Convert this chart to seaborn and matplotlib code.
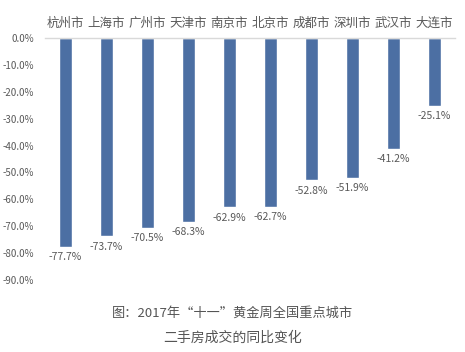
import matplotlib
matplotlib.use("Agg")
import matplotlib.pyplot as plt
import pandas as pd
import seaborn as sns

cities = ["杭州市", "上海市", "广州市", "天津市", "南京市", "北京市", "成都市", "深圳市", "武汉市", "大连市"]
change = [-77.7, -73.7, -70.5, -68.3, -62.9, -62.7, -52.8, -51.9, -41.2, -25.1]
y_ticks = [0, -10, -20, -30, -40, -50, -60, -70, -80, -90]

BAR_COLOR = "#4C6FA3"
TEXT_COLOR = "#595959"

sns.set_theme(style="white")
plt.rcParams["font.family"] = ["Noto Sans CJK SC", "DejaVu Sans"]

df = pd.DataFrame({"city": cities, "change": change})

fig = plt.figure(figsize=(4.65, 3.52), dpi=100)
ax = fig.add_axes([0.097, 0.2045, 0.881, 0.6875])

sns.barplot(data=df, x="city", y="change", color=BAR_COLOR, width=0.32,
            saturation=1, ax=ax)

ax.set_ylim(-90, 0)
ax.set_yticks(y_ticks)
ax.set_yticklabels([f"{v:.1f}%" for v in y_ticks], fontsize=7, color=TEXT_COLOR)
ax.xaxis.tick_top()
ax.tick_params(axis="x", length=0, pad=6, labelsize=9, labelcolor=TEXT_COLOR)
ax.tick_params(axis="y", length=0, pad=8)
ax.set_xlabel("")
ax.set_ylabel("")
sns.despine(ax=ax, left=True, bottom=True, right=True, top=False)
ax.spines["top"].set_color("#D9D9D9")
ax.spines["top"].set_linewidth(1)

for i, v in enumerate(change):
    ax.annotate(f"{v:.1f}%", xy=(i, v), xytext=(0, -4), textcoords="offset points",
                ha="center", va="top", fontsize=7.5, color=TEXT_COLOR)

fig.text(0.5, 0.11, "图：2017年“十一”黄金周全国重点城市", ha="center", va="center",
         fontsize=9.5, color="#555555")
fig.text(0.5, 0.04, "二手房成交的同比变化", ha="center", va="center",
         fontsize=10, color="#555555")

fig.savefig("out.png", dpi=100)
